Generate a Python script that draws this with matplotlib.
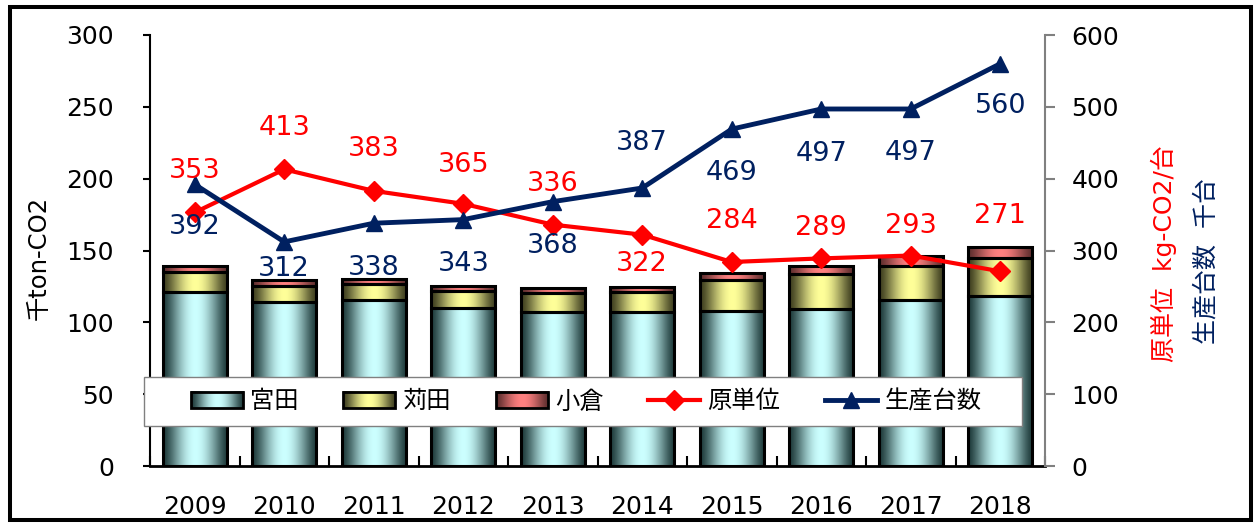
import numpy as np
import matplotlib
matplotlib.use("Agg")
import matplotlib.pyplot as plt
from matplotlib.patches import Rectangle, Patch
from matplotlib.lines import Line2D
from matplotlib.legend_handler import HandlerBase
from matplotlib.image import BboxImage
from matplotlib.transforms import Bbox, TransformedBbox

plt.rcParams['font.family'] = ['DejaVu Sans', 'Noto Sans CJK JP']

# ---------------- data ----------------
years = ['2009', '2010', '2011', '2012', '2013', '2014', '2015', '2016', '2017', '2018']
miyata = [121, 114, 115.5, 110, 107, 107, 108, 109, 115.5, 118]
kanda = [14, 11.5, 11, 12, 13.6, 14.3, 21.5, 24.5, 23.5, 27]
kokura = [4, 4, 3.5, 3.5, 3.4, 3.5, 4.5, 6, 7, 7.5]
intensity = [353, 413, 383, 365, 336, 322, 284, 289, 293, 271]
production = [392, 312, 338, 343, 368, 387, 469, 497, 497, 560]
bar_names = ['宮田', '苅田', '小倉']
line_names = ['原単位', '生産台数']

# label offsets (pixels, up positive)
red_dy_px = [41, 41, 42, 39, 41, -29, 41, 30, 30, 55]
blue_dy_px = [-43, -27, -45, -44, -44, 45, -44, -45, -44, -42]

# ---------------- style ----------------
W, H, DPI = 1260, 523, 100
RED = '#FF0000'
NAVY = '#002060'
grad_colors = [('#1e3a3a', '#CCFFFF'), ('#3d3d1f', '#FFFF99'), ('#5e2e2e', '#FF8080')]


def hex2rgb(h):
    h = h.lstrip('#')
    return np.array([int(h[i:i + 2], 16) / 255 for i in (0, 2, 4)])


def grad_rgb(dark, light, n=96):
    t = np.linspace(0, 1, n)
    w = np.sin(np.pi * t) ** 1.4
    d, l = hex2rgb(dark), hex2rgb(light)
    rgb = d[None, :] + (l - d)[None, :] * w[:, None]
    return rgb[None, :, :]


fig = plt.figure(figsize=(W / DPI, H / DPI), dpi=DPI)
fig.patch.set_facecolor('white')

L, R, T, B = 150, 1045, 35, 466
ax1 = fig.add_axes([L / W, (H - B) / H, (R - L) / W, (B - T) / H])
ax2 = ax1.twinx()
ax1.set_zorder(1)
ax2.set_zorder(2)
ax2.patch.set_visible(False)

x = np.arange(len(years))
width = 0.72

bottoms = np.zeros(len(years))
for vals, (dark, light) in zip([miyata, kanda, kokura], grad_colors):
    bars = ax1.bar(x, vals, width, bottom=bottoms, facecolor='none',
                   edgecolor='black', linewidth=2.2, zorder=3)
    img = grad_rgb(dark, light)
    for p in bars.patches:
        ax1.imshow(img, extent=[p.get_x(), p.get_x() + p.get_width(),
                                p.get_y(), p.get_y() + p.get_height()],
                   aspect='auto', interpolation='bilinear', zorder=2)
    bottoms = bottoms + np.array(vals)

ax1.set_xlim(-0.5, len(years) - 0.5)
ax1.set_ylim(0, 300)
ax1.set_yticks(np.arange(0, 301, 50))
ax1.set_xticks(x)
ax1.set_xticklabels(years)
ax1.set_xticks(np.arange(-0.5, len(years), 1.0), minor=True)
ax1.tick_params(axis='x', which='major', length=0, pad=21, labelsize=18)
ax1.tick_params(axis='x', which='minor', direction='in', length=7, width=1.5, color='black')
ax1.tick_params(axis='y', direction='out', length=5, width=1.5, pad=21, labelsize=18)
ax1.spines['top'].set_visible(False)
ax1.spines['right'].set_visible(False)
ax1.spines['left'].set_linewidth(1.5)
ax1.spines['bottom'].set_linewidth(2)
ax1.set_facecolor('white')

# lines
ax2.plot(x, intensity, color=RED, lw=3, marker='D', ms=10, mec=RED, zorder=4)
ax2.plot(x, production, color=NAVY, lw=3.5, marker='^', ms=12, mec=NAVY, zorder=4)
ax2.set_ylim(0, 600)
ax2.set_yticks(np.arange(0, 601, 100))
ax2.tick_params(axis='y', direction='out', length=7, width=1.5, color='#808080',
                pad=12, labelsize=18)
for s in ['top', 'left', 'bottom']:
    ax2.spines[s].set_visible(False)
ax2.spines['right'].set_color('#808080')
ax2.spines['right'].set_linewidth(1.5)

for i, v in enumerate(intensity):
    ax2.annotate(str(v), (x[i], v), xytext=(0, red_dy_px[i] * 0.72),
                 textcoords='offset points', ha='center', va='center',
                 color=RED, fontsize=19.5, zorder=6)
for i, v in enumerate(production):
    ax2.annotate(str(v), (x[i], v), xytext=(0, blue_dy_px[i] * 0.72),
                 textcoords='offset points', ha='center', va='center',
                 color=NAVY, fontsize=19.5, zorder=6)

# axis labels
fig.text(39 / W, 1 - 258 / H, '千ton-CO2', rotation=90, ha='center', va='center',
         fontsize=17.5)
fig.text(1164 / W, 1 - 254 / H, '原単位  kg-CO2/台', rotation=90, ha='center',
         va='center', fontsize=18, color=RED)
fig.text(1206 / W, 1 - 261 / H, '生産台数  千台', rotation=90, ha='center',
         va='center', fontsize=18, color=NAVY)


# legend
class GradHandler(HandlerBase):
    def __init__(self, img):
        super().__init__()
        self.img = img

    def create_artists(self, legend, orig_handle, xdescent, ydescent, width, height,
                       fontsize, trans):
        bb = TransformedBbox(Bbox.from_bounds(-xdescent, -ydescent, width, height), trans)
        im = BboxImage(bb, interpolation='bilinear')
        im.set_data(self.img)
        rect = Rectangle((-xdescent, -ydescent), width, height, facecolor='none',
                         edgecolor='black', linewidth=2, transform=trans)
        return [im, rect]


axw, axh = R - L, B - T
frame = Rectangle(((144 - L) / axw, (B - 426) / axh), (1022 - 144) / axw, (426 - 377) / axh,
                  transform=ax2.transAxes, facecolor='white', edgecolor='#808080',
                  linewidth=1, clip_on=False, zorder=7)
ax2.add_patch(frame)

handles = []
hmap = {}
for name, (dark, light) in zip(bar_names, grad_colors):
    h = Patch(label=name)
    handles.append(h)
    hmap[h] = GradHandler(grad_rgb(dark, light))
handles.append(Line2D([], [], color=RED, lw=3, marker='D', ms=10, label=line_names[0]))
handles.append(Line2D([], [], color=NAVY, lw=3.5, marker='^', ms=12, label=line_names[1]))

leg = ax2.legend(handles=handles, handler_map=hmap, ncol=5, frameon=False,
                 loc='center',
                 bbox_to_anchor=(((187 + 985) / 2 - L) / axw, (B - 401.5) / axh),
                 fontsize=17.5, columnspacing=1.85, handletextpad=0.29,
                 handlelength=2.14, handleheight=0.66, borderpad=0.2)
leg.set_zorder(8)

# outer border
fig.patches.append(Rectangle((9.5 / W, (H - 519.5) / H), (1250.5 - 9.5) / W,
                             (519.5 - 7) / H, transform=fig.transFigure,
                             facecolor='none', edgecolor='black', linewidth=2.9))

fig.savefig('out.png', dpi=DPI)
